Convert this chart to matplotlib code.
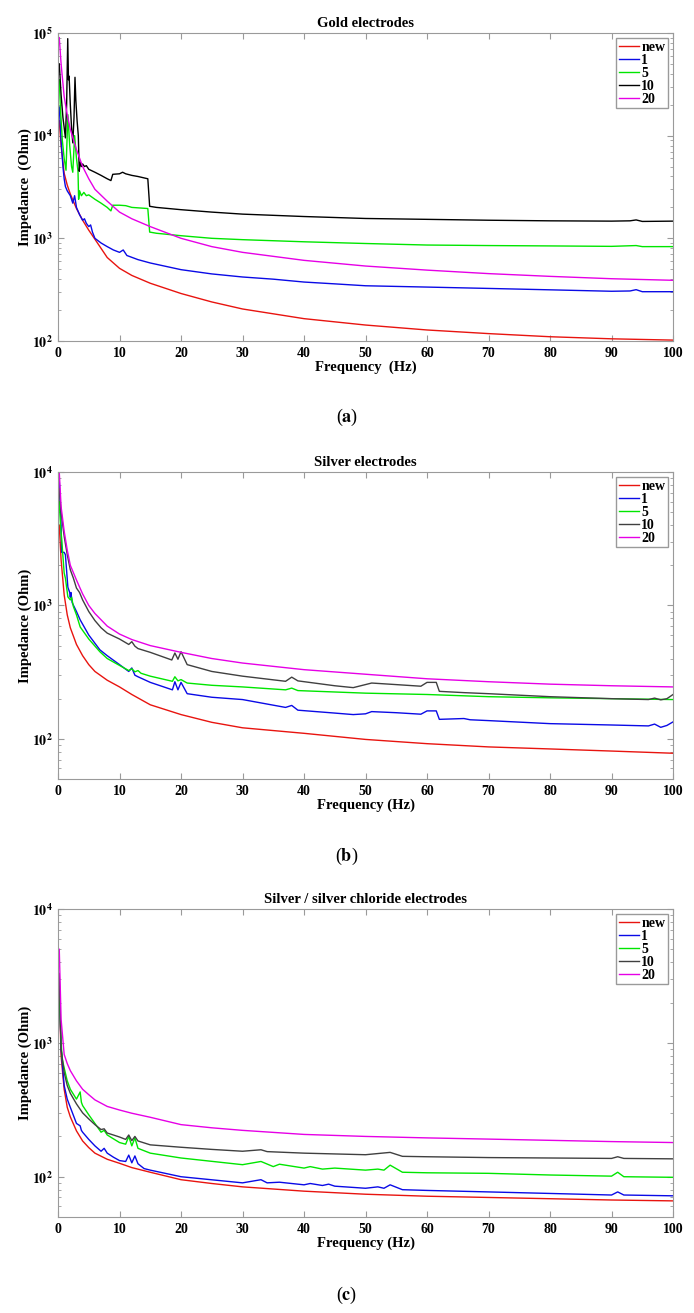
import numpy as np
import matplotlib
matplotlib.use("Agg")
import matplotlib.pyplot as plt
from matplotlib.ticker import FixedLocator, LogLocator, FuncFormatter, NullFormatter

plt.rcParams['font.family'] = ['Liberation Serif', 'DejaVu Serif']
plt.rcParams['font.weight'] = 'bold'
plt.rcParams['mathtext.fontset'] = 'stix'

labels = ['new', '1', '5', '10', '20']
x_ticks = [0, 10, 20, 30, 40, 50, 60, 70, 80, 90, 100]

# frequency grid used for the smooth curves (Hz)
smooth_f = [0.2, 0.5, 1, 1.5, 2, 3, 4, 5, 6, 8, 10, 12, 15, 20, 25, 30, 40, 50, 60, 70, 80, 90, 100]

# ---------------- (a) Gold electrodes ----------------
gold_z_new = [14000, 8000, 4300, 3300, 2700, 1950, 1500, 1200, 980, 650, 510, 435, 365, 290, 240,
              205, 165, 143, 128, 118, 110, 105, 102]
gold_z_20 = [90000, 50000, 24000, 16000, 11500, 7300, 5000, 3800, 3000, 2300, 1800, 1550, 1300, 1000,
             830, 730, 610, 537, 490, 453, 426, 404, 390]

gold_f_1 = [0.2, 0.5, 0.8, 1, 1.2, 1.5, 2, 2.4, 2.7, 3, 3.5, 4, 4.3, 4.6, 5, 5.3, 5.6, 6, 7, 8, 9, 10,
            10.6, 11.2, 13, 15, 20, 25, 30, 35, 40, 45, 50, 60, 70, 80, 90, 93, 94, 95, 100]
gold_z_1 = [19000, 9000, 5000, 3800, 3200, 2900, 2600, 2200, 2600, 2000, 1700, 1500, 1550, 1400, 1300,
            1350, 1150, 1000, 900, 830, 770, 730, 770, 680, 620, 575, 495, 450, 420, 400, 375, 360, 345,
            335, 325, 315, 305, 307, 316, 302, 302]

gold_f_5 = [0.2, 0.4, 0.7, 1.0, 1.3, 1.6, 1.9, 2.2, 2.4, 2.7, 3.0, 3.25, 3.35, 3.5, 3.8, 4.2, 4.6, 5, 6,
            7, 8, 8.6, 8.9, 10, 11, 12, 14.6, 14.9, 16, 20, 25, 30, 40, 50, 60, 70, 80, 90, 94, 95, 100]
gold_z_5 = [35000, 18000, 9000, 6000, 4600, 16000, 8000, 5000, 4400, 10000, 6000, 4500, 2400, 2900,
            2600, 2800, 2600, 2650, 2400, 2200, 2000, 1850, 2100, 2100, 2080, 2000, 1950, 1150, 1120,
            1060, 1000, 970, 925, 890, 860, 850, 843, 835, 850, 830, 830]

gold_f_10 = [0.2, 0.5, 0.8, 1.0, 1.2, 1.4, 1.58, 1.7, 1.8, 2.0, 2.2, 2.4, 2.6, 2.76, 2.9, 3.1, 3.3,
             3.45, 3.6, 3.8, 4.0, 4.3, 4.6, 5, 6, 7, 8, 8.6, 8.9, 10, 10.5, 11, 12, 13, 14.6, 14.9, 16,
             20, 25, 30, 40, 50, 60, 70, 80, 90, 93, 94, 95, 100]
gold_z_10 = [50000, 25000, 15000, 12000, 9500, 20000, 88000, 35000, 38000, 20000, 12000, 8500, 15000,
             37000, 22000, 14000, 10000, 4500, 5500, 5000, 5300, 5000, 5100, 4700, 4400, 4100, 3800,
             3650, 4200, 4250, 4400, 4250, 4100, 4000, 3800, 2050, 2000, 1900, 1800, 1720, 1630, 1560,
             1530, 1500, 1480, 1470, 1480, 1510, 1460, 1470]

# ---------------- (b) Silver electrodes ----------------
silver_z_new = [4000, 2200, 1200, 850, 680, 510, 420, 360, 320, 275, 245, 215, 180, 152, 133, 121,
                110, 99, 92, 87, 84, 81, 78]
silver_z_20 = [10000, 5500, 3600, 2600, 2000, 1550, 1220, 1000, 870, 700, 610, 555, 500, 445, 400,
               370, 330, 305, 282, 268, 257, 250, 245]

silver_f_1 = [0.2, 0.5, 0.6, 1.0, 1.2, 1.6, 1.9, 2.0, 2.1, 2.3, 3, 3.6, 5, 6.8, 8, 10, 11.5, 12, 12.5,
              13, 15, 18.6, 19, 19.5, 20, 21, 25, 30, 37, 38, 39, 45, 48, 50, 51, 55, 59, 60, 61.5, 62,
              66, 67, 70, 80, 90, 96, 97, 98, 99, 100]
silver_z_1 = [8700, 3900, 2500, 2500, 2400, 1370, 1250, 1150, 1250, 1050, 900, 780, 600, 465, 420, 360,
              320, 340, 300, 292, 265, 233, 268, 233, 265, 218, 205, 197, 172, 178, 164, 156, 152, 154,
              160, 157, 153, 162, 162, 140, 142, 139, 137, 130, 127, 125, 129, 122, 126, 134]

silver_f_5 = [0.2, 0.4, 0.6, 1.0, 1.2, 1.6, 2, 2.2, 2.5, 3, 3.6, 5, 6.8, 8, 10, 11.5, 12, 12.5, 13,
              13.5, 15, 18.6, 19, 19.5, 20, 21, 25, 30, 37, 38, 39, 50, 60, 70, 80, 90, 100]
silver_z_5 = [6000, 4000, 3100, 1750, 1600, 1160, 1100, 1150, 980, 850, 690, 560, 450, 400, 355, 325,
              335, 318, 325, 310, 295, 270, 292, 272, 278, 262, 252, 245, 233, 240, 230, 220, 215, 207,
              203, 200, 197]

silver_f_10 = [0.2, 0.5, 1, 1.5, 2, 2.5, 3, 3.5, 4, 5, 6, 7, 8, 10, 11.5, 12, 12.5, 13, 15, 18.5, 19,
               19.5, 20, 21, 25, 30, 37, 38, 39, 45, 48, 51, 55, 59, 60, 61.5, 62, 66, 70, 80, 90, 96,
               97, 98, 99, 100]
silver_z_10 = [7500, 5000, 3300, 2400, 1850, 1600, 1350, 1250, 1100, 900, 770, 680, 620, 560, 510, 535,
               495, 475, 445, 390, 440, 395, 450, 360, 320, 295, 270, 290, 272, 250, 242, 262, 255, 248,
               265, 265, 227, 222, 218, 207, 200, 197, 202, 196, 200, 215]

# ---------------- (c) Silver / silver chloride electrodes ----------------
agcl_z_new = [2500, 800, 450, 330, 280, 220, 185, 165, 150, 135, 126, 117, 108, 95, 89, 84, 78, 74,
              71.5, 70, 68.5, 67, 66]
agcl_z_20 = [5000, 1500, 820, 700, 620, 520, 450, 410, 375, 335, 315, 298, 278, 245, 232, 222, 207,
             200, 195, 191, 187, 183, 180]

agcl_f_1 = [0.2, 0.5, 1, 1.5, 2, 3, 3.6, 3.8, 4, 5, 6, 7, 7.5, 8, 9, 10, 11, 11.5, 12, 12.5, 13, 14,
            15, 20, 30, 33, 34, 36, 40, 41, 43, 44, 45, 50, 52, 53, 54, 56, 60, 70, 80, 90, 91, 92, 100]
agcl_z_1 = [2800, 900, 480, 380, 330, 250, 240, 222, 215, 190, 170, 155, 163, 150, 140, 132, 130, 145,
            127, 143, 125, 115, 112, 100, 90, 95, 90, 91, 87, 89, 86, 88, 85, 82, 84, 82, 87, 80, 79,
            77, 75, 73, 77, 73, 72]

agcl_f_5 = [0.2, 0.5, 0.7, 1, 1.5, 2, 3, 3.6, 3.8, 4, 5, 6, 7, 7.5, 8, 9, 10, 11, 11.5, 12, 12.5, 13,
            15, 20, 30, 33, 35, 36, 40, 41, 43, 45, 50, 52, 53, 54, 56, 60, 70, 80, 90, 91, 92, 100]
agcl_z_5 = [2500, 1000, 750, 650, 520, 450, 380, 430, 360, 340, 290, 250, 215, 222, 205, 192, 180, 175,
            200, 170, 195, 163, 150, 138, 123, 130, 119, 124, 116, 119, 114, 116, 112, 114, 112, 122,
            108, 107, 106, 103, 101, 108, 100, 99]

agcl_f_10 = [0.2, 0.5, 1, 1.5, 2, 3, 4, 5, 6, 7, 7.5, 8, 9, 10, 11, 11.5, 12, 12.5, 13, 15, 20, 25,
             30, 33, 34, 40, 50, 54, 56, 60, 70, 80, 90, 91, 92, 100]
agcl_z_10 = [3300, 900, 600, 480, 420, 350, 300, 270, 245, 225, 228, 212, 205, 198, 190, 205, 186,
             200, 185, 173, 166, 160, 155, 159, 154, 150, 146, 152, 142, 141, 139, 138, 137, 141, 137, 136]

panels = [
    dict(title='Gold electrodes', ylim=(1e2, 1e5), black='#000000',
         xlabel='Frequency  (Hz)', ylabel='Impedance  (Ohm)', caption='a',
         rect=[0.0836, 0.7403, 0.8862, 0.2346],
         series=[(smooth_f, gold_z_new), (gold_f_1, gold_z_1), (gold_f_5, gold_z_5),
                 (gold_f_10, gold_z_10), (smooth_f, gold_z_20)]),
    dict(title='Silver electrodes', ylim=(50, 1e4), black='#404040',
         xlabel='Frequency (Hz)', ylabel='Impedance (Ohm)', caption='b',
         rect=[0.0836, 0.4067, 0.8862, 0.2338],
         series=[(smooth_f, silver_z_new), (silver_f_1, silver_z_1), (silver_f_5, silver_z_5),
                 (silver_f_10, silver_z_10), (smooth_f, silver_z_20)]),
    dict(title='Silver / silver chloride electrodes', ylim=(50, 1e4), black='#404040',
         xlabel='Frequency (Hz)', ylabel='Impedance (Ohm)', caption='c',
         rect=[0.0836, 0.0731, 0.8862, 0.2346],
         series=[(smooth_f, agcl_z_new), (agcl_f_1, agcl_z_1), (agcl_f_5, agcl_z_5),
                 (agcl_f_10, agcl_z_10), (smooth_f, agcl_z_20)]),
]
caption_y = [0.6817, 0.348, 0.0137]

fig = plt.figure(figsize=(6.94, 13.13), dpi=100)

for p, cy in zip(panels, caption_y):
    ax = fig.add_axes(p['rect'])
    colors = ['#e8140f', '#0a0ae6', '#00e600', p['black'], '#e600e6']
    for (f, z), c, lab in zip(p['series'], colors, labels):
        ax.plot(f, z, color=c, lw=1.0, label=lab)

    ax.set_yscale('log')
    ax.set_xlim(0, 100)
    ax.set_ylim(*p['ylim'])
    ax.xaxis.set_major_locator(FixedLocator(x_ticks))
    ax.yaxis.set_major_locator(LogLocator(base=10))
    ax.yaxis.set_minor_locator(LogLocator(base=10, subs=range(2, 10)))
    ax.yaxis.set_minor_formatter(NullFormatter())
    ax.yaxis.set_major_formatter(FuncFormatter(lambda v, pos: r'$\mathbf{10^{%d}}$' % round(np.log10(v))))

    for s in ax.spines.values():
        s.set_color('#9a9a9a')
        s.set_linewidth(0.8)
    ax.tick_params(which='both', direction='in', top=True, right=True, color='#9a9a9a',
                   labelsize=10, pad=4)
    ax.tick_params(which='major', length=4)
    ax.tick_params(which='minor', length=2.5)

    ax.set_title(p['title'], fontsize=10.5, fontweight='bold', pad=4)
    ax.set_xlabel(p['xlabel'], fontsize=10.5, fontweight='bold', labelpad=1)
    ax.set_ylabel(p['ylabel'], fontsize=10.5, fontweight='bold', labelpad=0)

    ax.legend(loc='upper right', fontsize=10, handlelength=1.4, handletextpad=0.2,
              labelspacing=0.0, borderpad=0.2, borderaxespad=0.35, fancybox=False,
              edgecolor='#9a9a9a', framealpha=1)

    fig.text(0.5, cy, r'($\mathbf{%s}$)' % p['caption'], ha='center', va='center',
             fontsize=13, fontweight='normal')

fig.savefig('out.png', dpi=100)
